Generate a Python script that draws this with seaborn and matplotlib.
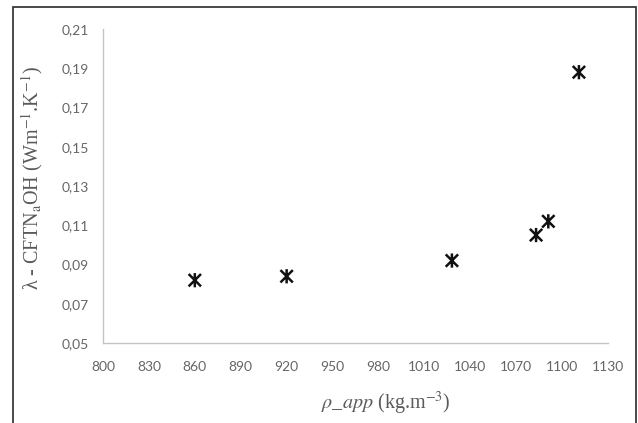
import numpy as np
import pandas as pd
import seaborn as sns
import matplotlib
matplotlib.use("Agg")
import matplotlib.pyplot as plt
from matplotlib.path import Path
from matplotlib.patches import Rectangle

# Apparent density (kg/m3) and thermal conductivity (W/m.K)
density = [860, 920, 1028, 1083, 1091, 1111]
conductivity = [0.082, 0.084, 0.092, 0.105, 0.112, 0.188]

x_ticks = [800, 830, 860, 890, 920, 950, 980, 1010, 1040, 1070, 1100, 1130]
y_ticks = [0.05, 0.07, 0.09, 0.11, 0.13, 0.15, 0.17, 0.19, 0.21]

df = pd.DataFrame({"rho": density, "lam": conductivity})

sns.set_theme(style="white")
plt.rcParams["font.family"] = ["Lato", "DejaVu Sans"]
plt.rcParams["mathtext.fontset"] = "stix"

fig = plt.figure(figsize=(6.38, 4.23), dpi=100)
ax = fig.add_axes([103 / 638, 1 - 343 / 423, 505 / 638, 314 / 423])

# asterisk marker: an X crossed by a vertical bar
star = Path(
    [(-1, -1), (1, 1), (-1, 1), (1, -1), (0, -1.15), (0, 1.15)],
    [Path.MOVETO, Path.LINETO, Path.MOVETO, Path.LINETO, Path.MOVETO, Path.LINETO],
)

sns.scatterplot(
    data=df, x="rho", y="lam", ax=ax,
    marker=star, s=105, color="black", facecolor="none",
    edgecolor="#111111", linewidth=1.8, legend=False,
)

ax.set_xlim(800, 1130)
ax.set_ylim(0.05, 0.21)
ax.set_xticks(x_ticks)
ax.set_yticks(y_ticks)
ax.set_xticklabels([str(v) for v in x_ticks])
ax.set_yticklabels([f"{v:.2f}".replace(".", ",") for v in y_ticks])

tick_color = "#666666"
ax.tick_params(axis="both", length=0, labelsize=10, labelcolor=tick_color)
ax.tick_params(axis="x", pad=13)
ax.tick_params(axis="y", pad=10)

for side in ["top", "right"]:
    ax.spines[side].set_visible(False)
for side in ["left", "bottom"]:
    ax.spines[side].set_color("#c4c4c4")
    ax.spines[side].set_linewidth(1.0)

label_color = "#5a5a5a"
serif = ["Liberation Serif", "DejaVu Serif"]
ax.set_xlabel(r"$\rho\_app$ (kg.m$^{-3}$)", fontsize=14.5, color=label_color, family=serif)
ax.xaxis.set_label_coords(0.56, -0.148)
ax.set_ylabel(r"λ - CFTN$_\mathrm{a}$OH (Wm$^{-1}$.K$^{-1}$)", fontsize=14.5,
              color=label_color, family=serif)
ax.yaxis.label.set_va("center")
ax.yaxis.set_label_coords(-0.141, 0.525)

# chart frame
fig.add_artist(Rectangle((12.5 / 638, -0.05), (636 - 12.5) / 638, 1.05 - 7.5 / 423,
                         transform=fig.transFigure, fill=False,
                         edgecolor="#3a3a3a", linewidth=1.3))

fig.savefig("out.png", dpi=100, facecolor="white")
